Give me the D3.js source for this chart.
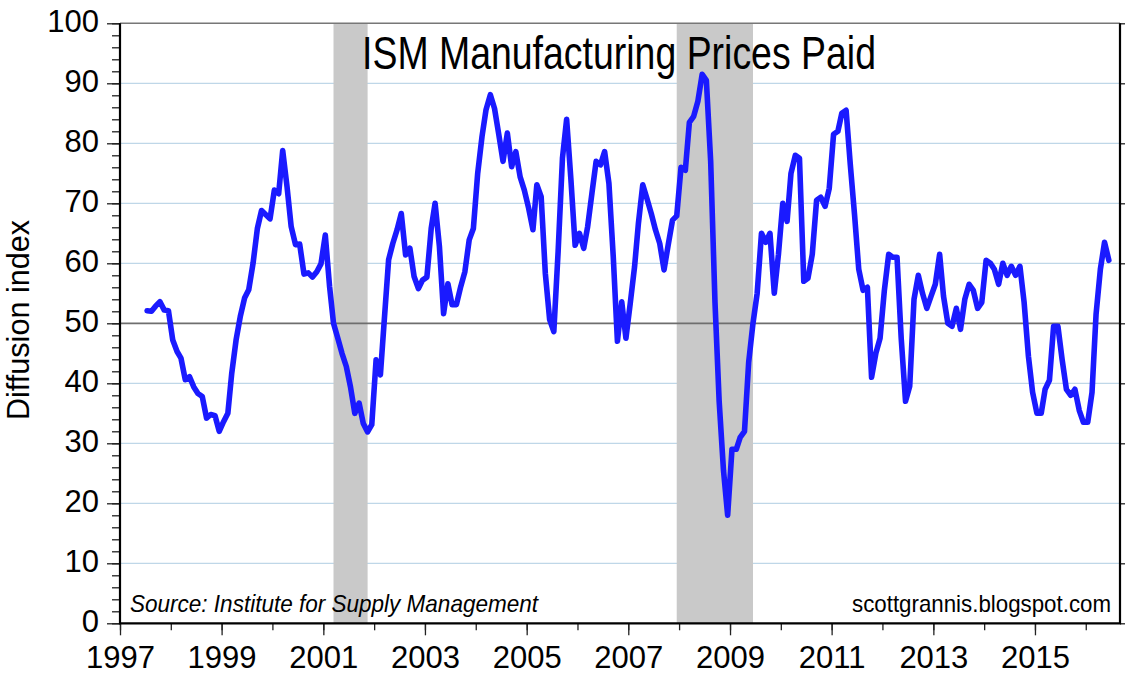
<!DOCTYPE html>
<html>
<head>
<meta charset="utf-8">
<script src="https://cdn.jsdelivr.net/npm/d3@7"></script>
<style>
  body { margin: 0; background: #fff; }
  svg { display: block; }
  text { font-family: "Liberation Sans", Arial, sans-serif; fill: #000; }
</style>
</head>
<body>
<svg id="chart"></svg>
<script>
// monthly ISM prices paid index, starting July 1997
const startYear = 1997;
const startMonth = 6;
const prices = [
  52.1, 52.0, 52.9, 53.6, 52.2, 52.1,
  47.2, 45.3, 44.2, 40.6, 41.1, 39.4, 38.3, 37.8, 34.2, 34.8, 34.6, 32.0,
  33.6, 35.0, 41.7, 47.2, 51.1, 54.2, 55.6, 60.0, 65.8, 68.8, 68.1, 67.4,
  72.2, 71.6, 78.8, 72.8, 66.1, 63.1, 63.2, 58.2, 58.4, 57.7, 58.6, 59.9,
  64.7, 56.1, 50.0, 47.5, 45.0, 42.8, 39.4, 35.0, 36.7, 33.3, 31.9, 33.1,
  43.9, 41.4, 50.6, 60.6, 63.3, 65.6, 68.3, 61.4, 62.5, 57.8, 55.8, 57.2,
  57.7, 65.8, 70.0, 62.8, 51.6, 56.6, 53.1, 53.1, 56.1, 58.6, 63.9, 65.8,
  75.0, 81.1, 85.6, 88.1, 85.8, 81.4, 77.0, 81.7, 76.1, 78.6, 74.4, 72.2,
  69.2, 65.6, 73.1, 71.1, 58.3, 50.6, 48.6, 62.0, 77.5, 84.0, 73.9, 63.0,
  65.0, 62.5, 66.1, 71.7, 77.0, 76.4, 78.6, 73.3, 61.1, 47.0, 53.6, 47.5,
  53.3, 59.4, 66.7, 73.1, 70.8, 68.3, 65.6, 63.3, 58.9, 63.1, 67.2, 67.9,
  76.0, 75.5, 83.5, 84.5, 87.0, 91.5, 90.5, 77.0, 53.5, 37.0, 25.5, 18.0,
  29.0, 29.0, 31.0, 32.0, 43.5, 50.0, 55.0, 65.0, 63.5, 65.0, 55.0, 61.5,
  70.0, 67.0, 75.0, 78.0, 77.5, 57.0, 57.5, 61.5, 70.5, 71.0, 69.5, 72.5,
  81.5, 82.0, 85.0, 85.5, 76.5, 68.0, 59.0, 55.5, 56.0, 41.0, 45.0, 47.5,
  55.5, 61.5, 61.0, 61.0, 47.5, 37.0, 39.5, 54.0, 58.0, 55.0, 52.5, 54.5,
  56.5, 61.5, 54.5, 50.0, 49.5, 52.5, 49.0, 54.0, 56.5, 55.5, 52.5, 53.5,
  60.5, 60.0, 59.0, 56.5, 60.0, 58.0, 59.5, 58.0, 59.5, 53.5, 44.5, 38.5,
  35.0, 35.0, 39.0, 40.5, 49.5, 49.5, 44.0, 39.0, 38.0, 39.0, 35.5, 33.5,
  33.5, 38.5, 51.5, 59.0, 63.5, 60.5
];
// recessions, [start, end] as [year, month]
const recessions = [[[2001, 2], [2001, 10]], [[2007, 11], [2009, 5]]];
const yMajor = d3.range(0, 101, 10);
const yMinor = d3.range(0, 101, 2);
const labelYears = d3.range(1997, 2017, 2);
const allYears = d3.range(1997, 2017);

const width = 1142, height = 682;
const margin = { top: 23.3, right: 22, bottom: 58.7, left: 120 };

const svg = d3.select("#chart").attr("width", width).attr("height", height);
svg.append("rect").attr("width", width).attr("height", height).attr("fill", "#fff");

const midMonth = (yr, m) => new Date(yr, m, 15);
const data = prices.map((v, i) => ({
  date: midMonth(startYear + Math.floor((startMonth + i) / 12), (startMonth + i) % 12),
  value: v
}));

const x = d3.scaleTime()
  .domain([new Date(1997, 0, 1), new Date(2016, 8, 3)])
  .range([margin.left, width - margin.right]);
const y = d3.scaleLinear()
  .domain([0, 100])
  .range([height - margin.bottom, margin.top]);

const x0 = x.range()[0], x1 = x.range()[1];
const y0 = y.range()[0], y1 = y.range()[1];

// gridlines
svg.append("g")
  .selectAll("line")
  .data(yMajor.filter(d => d > 0 && d < 100 && d !== 50))
  .join("line")
  .attr("x1", x0).attr("x2", x1)
  .attr("y1", d => y(d)).attr("y2", d => y(d))
  .attr("stroke", "#bfd7e8")
  .attr("stroke-width", 1.2);

// recession bars
svg.append("g")
  .selectAll("rect")
  .data(recessions)
  .join("rect")
  .attr("x", d => x(midMonth(...d[0])))
  .attr("width", d => x(midMonth(...d[1])) - x(midMonth(...d[0])))
  .attr("y", y1)
  .attr("height", y0 - y1)
  .attr("fill", "#c9c9c9");

// 50 line
svg.append("line")
  .attr("x1", x0).attr("x2", x1)
  .attr("y1", y(50)).attr("y2", y(50))
  .attr("stroke", "#6e6e6e")
  .attr("stroke-width", 1.8);

// top border
svg.append("line")
  .attr("x1", x0).attr("x2", x1)
  .attr("y1", y1).attr("y2", y1)
  .attr("stroke", "#777")
  .attr("stroke-width", 1.6);

// title
svg.append("text")
  .attr("x", 619).attr("y", 69)
  .attr("text-anchor", "middle")
  .attr("textLength", 514)
  .attr("lengthAdjust", "spacingAndGlyphs")
  .style("font-size", "46px")
  .text("ISM Manufacturing Prices Paid");

// data line
const line = d3.line()
  .x(d => x(d.date))
  .y(d => y(d.value));
svg.append("path")
  .datum(data)
  .attr("d", line)
  .attr("fill", "none")
  .attr("stroke", "#1a1aff")
  .attr("stroke-width", 5.6)
  .attr("stroke-linejoin", "round")
  .attr("stroke-linecap", "round");

// axes
const yAxisMinor = svg.append("g")
  .attr("transform", `translate(${x0},0)`)
  .call(d3.axisLeft(y).tickValues(yMinor).tickSize(8).tickFormat(""));
const yAxis = svg.append("g")
  .attr("transform", `translate(${x0},0)`)
  .call(d3.axisLeft(y).tickValues(yMajor).tickSize(13).tickPadding(8));
yAxis.selectAll("text")
  .attr("dy", "0.25em")
  .style("font-size", "31px");

const rightAxis = svg.append("g")
  .attr("transform", `translate(${x1},0)`)
  .call(d3.axisRight(y).tickValues(yMajor).tickSize(5).tickFormat(""));

const xAxisMinor = svg.append("g")
  .attr("transform", `translate(0,${y0})`)
  .call(d3.axisBottom(x).tickValues(allYears.map(d => new Date(d, 0, 1))).tickSize(7).tickFormat(""));
const xAxis = svg.append("g")
  .attr("transform", `translate(0,${y0})`)
  .call(d3.axisBottom(x)
    .tickValues(labelYears.map(d => new Date(d, 0, 1)))
    .tickSize(12)
    .tickPadding(3)
    .tickFormat(d3.timeFormat("%Y")));
xAxis.selectAll("text")
  .attr("dy", "0.95em")
  .style("font-size", "31px");

svg.selectAll(".domain").remove();
svg.selectAll(".tick line").attr("stroke", "#222").attr("stroke-width", 1.3);

// frame: left, bottom, right
svg.append("path")
  .attr("d", `M${x0},${y1}V${y0}H${x1}V${y1}`)
  .attr("fill", "none")
  .attr("stroke", "#000")
  .attr("stroke-width", 2.2);

// notes
svg.append("text")
  .attr("x", 130).attr("y", 612)
  .attr("textLength", 408)
  .attr("lengthAdjust", "spacingAndGlyphs")
  .style("font-size", "24px")
  .style("font-style", "italic")
  .text("Source: Institute for Supply Management");

svg.append("text")
  .attr("x", 1111).attr("y", 612)
  .attr("text-anchor", "end")
  .attr("textLength", 259)
  .attr("lengthAdjust", "spacingAndGlyphs")
  .style("font-size", "24px")
  .text("scottgrannis.blogspot.com");

svg.append("text")
  .attr("transform", "translate(29,320) rotate(-90)")
  .attr("text-anchor", "middle")
  .attr("textLength", 200)
  .attr("lengthAdjust", "spacingAndGlyphs")
  .style("font-size", "31px")
  .text("Diffusion index");
</script>
</body>
</html>
